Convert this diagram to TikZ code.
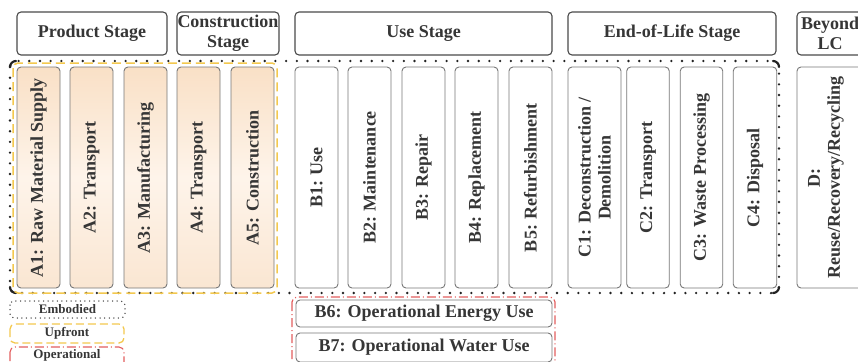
\documentclass[tikz,border=0pt]{standalone}
\usepackage{fontspec}
\setmainfont{Liberation Serif}[BoldFont={Liberation Serif Bold}]
\definecolor{txt}{HTML}{363636}
\definecolor{hdrline}{HTML}{4A4A4A}
\definecolor{boxline}{HTML}{777777}
\definecolor{dotcol}{HTML}{222222}
\definecolor{upfront}{HTML}{F3C84E}
\definecolor{operational}{HTML}{E25D5D}
\definecolor{peachL}{HTML}{F9E0C6}
\definecolor{peachM}{HTML}{FEF4EA}
\definecolor{peachR}{HTML}{FAE6D2}
\begin{document}
\begin{tikzpicture}[x=1pt,y=-1pt,
  bigfont/.style={font=\bfseries\fontsize{18}{20}\selectfont, text=txt},
  hdrbox/.style={draw=hdrline, line width=1.1pt, rounded corners=4pt, fill=white,
    inner sep=0pt, align=center, bigfont},
  phasebase/.style={draw=boxline, line width=0.9pt, rounded corners=4pt,
    inner sep=0pt, rotate=90, align=center, bigfont},
  phasebox/.style={phasebase, fill=white},
  upbox/.style={phasebase, top color=peachL, bottom color=peachR, middle color=peachM},
  vlabel/.style={rotate=90, align=center, inner sep=0pt, bigfont},
  legtext/.style={font=\bfseries\fontsize{13}{14}\selectfont, text=txt, inner sep=0pt},
  embline/.style={draw=dotcol, line width=2.6pt, line cap=round,
    dash pattern=on 0pt off 10.7pt, rounded corners=6pt},
  cornerhook/.style={draw=dotcol, line width=2.2pt, line cap=round},
  upline/.style={draw=upfront, line width=1.5pt, dash pattern=on 9pt off 5pt, rounded corners=5pt},
  opline/.style={draw=operational, line width=1.2pt,
    dash pattern=on 9pt off 3pt on 1pt off 3pt, rounded corners=5pt},
  legemb/.style={draw=dotcol!85, line width=1.5pt, line cap=round,
    dash pattern=on 0pt off 4.6pt, rounded corners=4pt},
]
\useasboundingbox (0,0) rectangle (858,361);
\clip (0,0) rectangle (858,361);

% stage headers
\node[hdrbox, minimum width=150, minimum height=43] (ps) at (92,33.5) {Product Stage};
\node[hdrbox, minimum width=102, minimum height=43] (cs) at (228,33.5) {Construction\\Stage};
\node[hdrbox, minimum width=257, minimum height=43] (us) at (423.5,33.5) {Use Stage};
\node[hdrbox, minimum width=208, minimum height=43] (es) at (672,33.5) {End-of-Life Stage};
\node[hdrbox, minimum width=75, minimum height=43] (bl) at (834.5,33.5) {};
\node[align=center, inner sep=0pt, bigfont] (bltxt) at (830,33.5) {Beyond\\LC};

% embodied boundary (dotted) and upfront boundary (dashed)
\draw[embline] (10,61) rectangle (779,293);
\draw[cornerhook] (10,67) arc[start angle=180, end angle=270, radius=6];
\draw[cornerhook] (773,61) arc[start angle=270, end angle=360, radius=6];
\draw[cornerhook] (779,287) arc[start angle=0, end angle=90, radius=6];
\draw[cornerhook] (16,293) arc[start angle=90, end angle=180, radius=6];
\draw[upline] (13,63) rectangle (277,293);

% product and construction modules
\node[upbox, minimum width=221, minimum height=43] (a1) at (38.5,177.5) {A1: Raw Material Supply};
\node[upbox, minimum width=221, minimum height=43] (a2) at (91.5,177.5) {A2: Transport};
\node[upbox, minimum width=221, minimum height=43] (a3) at (145.5,177.5) {A3: Manufacturing};
\node[upbox, minimum width=221, minimum height=43] (a4) at (198.5,177.5) {A4: Transport};
\node[upbox, minimum width=221, minimum height=43] (a5) at (252.5,177.5) {A5: Construction};

% use modules
\node[phasebox, minimum width=221, minimum height=43] (b1) at (316.5,177.5) {B1: Use};
\node[phasebox, minimum width=221, minimum height=43] (b2) at (369.5,177.5) {B2: Maintenance};
\node[phasebox, minimum width=221, minimum height=43] (b3) at (423.5,177.5) {B3: Repair};
\node[phasebox, minimum width=221, minimum height=43] (b4) at (476.5,177.5) {B4: Replacement};
\node[phasebox, minimum width=221, minimum height=43] (b5) at (530.5,177.5) {B5: Refurbishment};

% end-of-life modules
\node[phasebox, minimum width=221, minimum height=53] (c1) at (594.5,177.5) {C1: Deconstruction /\\Demolition};
\node[phasebox, minimum width=221, minimum height=42.5] (c2) at (648,177.5) {C2: Transport};
\node[phasebox, minimum width=221, minimum height=42.5] (c3) at (701.5,177.5) {C3: Waste Processing};
\node[phasebox, minimum width=221, minimum height=43.5] (c4) at (755,177.5) {C4: Disposal};

% beyond the life cycle
\node[phasebox, minimum width=221, minimum height=75] (d) at (834.5,177.5) {};
\node[vlabel] (dtxt) at (826,177.5) {D:\\Reuse/Recovery/Recycling};

% operational modules
\draw[opline] (292,297) rectangle (555,368);
\node[hdrbox, draw=boxline, line width=0.9pt, minimum width=256, minimum height=27] (b6) at (424,313.5) {B6: Operational Energy Use};
\node[hdrbox, draw=boxline, line width=0.9pt, minimum width=256, minimum height=29] (b7) at (424,347.5) {B7: Operational Water Use};

% legend
\draw[legemb] (10,301) rectangle (125,318);
\node[legtext] (lemb) at (67.5,309.5) {Embodied};
\draw[upline, line width=1.3pt, dash pattern=on 8pt off 4pt] (10,324) rectangle (124,343);
\node[legtext] (lupf) at (67,333.5) {Upfront};
\draw[opline, line width=1.1pt] (10,347) rectangle (124,368);
\node[legtext] (lope) at (67,355.5) {Operational};
\end{tikzpicture}
\end{document}
